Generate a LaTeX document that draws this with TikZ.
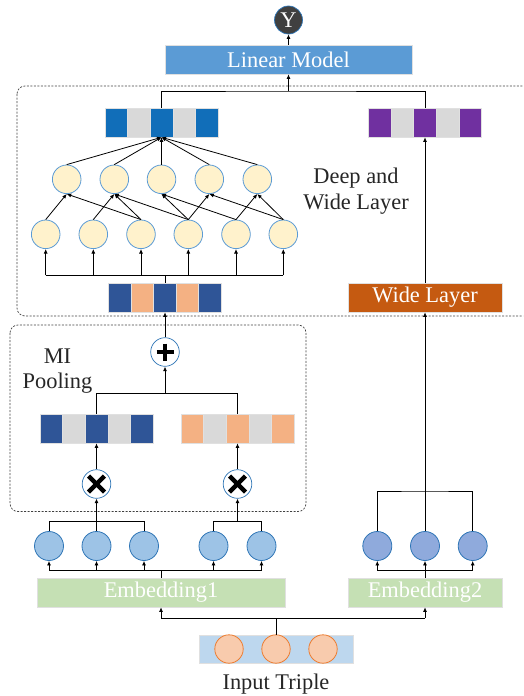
\documentclass[tikz,border=0pt]{standalone}
\usepackage{fontspec}
\setmainfont{Liberation Serif}
\usetikzlibrary{arrows.meta}
\definecolor{vblue}{HTML}{116EB9}
\definecolor{vgray}{HTML}{D9D9D9}
\definecolor{vpurple}{HTML}{7030A0}
\definecolor{vdblue}{HTML}{2F5597}
\definecolor{vorange}{HTML}{F4B183}
\definecolor{wlayer}{HTML}{C55A11}
\definecolor{lmodel}{HTML}{5B9BD5}
\definecolor{embg}{HTML}{C5E0B4}
\definecolor{inbox}{HTML}{BDD7EE}
\definecolor{incirc}{HTML}{F8CBAD}
\definecolor{incircb}{HTML}{ED7D31}
\definecolor{eonefill}{HTML}{9DC3E6}
\definecolor{etwofill}{HTML}{8FAADC}
\definecolor{cborder}{HTML}{2E75B6}
\definecolor{hidfill}{HTML}{FFF2CC}
\definecolor{hidb}{HTML}{5B9BD5}
\definecolor{ydark}{HTML}{404040}
\definecolor{txt}{HTML}{262626}
\begin{document}
\begin{tikzpicture}[x=1pt,y=-1pt,
  bigfont/.style={font=\fontsize{22.4}{25.5}\selectfont},
  arr/.style={-{Latex[length=4.5pt,width=4pt]}, line width=0.8pt},
  ln/.style={line width=0.8pt},
  cell/.style={draw=black!12, line width=0.6pt, minimum width=22.6pt, minimum height=29pt, inner sep=0pt},
  hid/.style={circle, draw=hidb, line width=0.8pt, fill=hidfill, minimum size=28.6pt, inner sep=0pt},
  eone/.style={circle, draw=cborder, line width=0.8pt, fill=eonefill, minimum size=29pt, inner sep=0pt},
  etwo/.style={circle, draw=cborder, line width=0.8pt, fill=etwofill, minimum size=29pt, inner sep=0pt},
  inc/.style={circle, draw=incircb, line width=0.8pt, fill=incirc, minimum size=28.4pt, inner sep=0pt},
  op/.style={circle, draw=cborder, line width=0.7pt, fill=white, minimum size=28.6pt, inner sep=0pt},
  tbox/.style={bigfont, text=white, draw=black!12, line width=0.6pt, minimum height=29pt, inner sep=0pt},
  dbox/.style={draw=black!75, line width=0.7pt, dash pattern=on 2pt off 1.5pt, rounded corners=8pt},
  lbl/.style={bigfont, text=txt, align=center}
]
\useasboundingbox (0,0) rectangle (523,696);
\begin{scope}
\clip (0,0) rectangle (523,696);
% dashed group boxes
\draw[dbox] (17,86) rectangle (560,316);
\draw[dbox] (10,325) rectangle (306,511.5);

% output and linear model
\node[circle, fill=ydark, draw=cborder, line width=0.7pt, minimum size=28pt, inner sep=0pt, text=white, bigfont] (Y) at (288.5,20) {Y};
\node[tbox, fill=lmodel, minimum width=247pt] (LM) at (288.5,59.5) {Linear Model};

% top vectors
\foreach \i/\c in {1/vblue,2/vgray,3/vblue,4/vgray,5/vblue}
  \node[cell, fill=\c] (tv\i) at ({105+11.3+(\i-1)*22.6},122.5) {};
\foreach \i/\c in {1/vpurple,2/vgray,3/vpurple,4/vgray,5/vpurple}
  \node[cell, fill=\c] (pv\i) at ({379.8+(\i-1)*22.6},122.5) {};

% hidden layers
\foreach \i/\x in {1/66.7,2/114.3,3/161.5,4/209.3,5/257.3}
  \node[hid] (h\i) at (\x,179.3) {};
\foreach \i/\x in {1/45.7,2/93.3,3/141,4/188.3,5/236,6/283.3}
  \node[hid] (g\i) at (\x,234.3) {};

% concatenated vector
\foreach \i/\c in {1/vdblue,2/vorange,3/vdblue,4/vorange,5/vdblue}
  \node[cell, fill=\c, minimum width=22.5pt] (bv\i) at ({120+(\i-1)*22.5},297.5) {};

\node[tbox, fill=wlayer, minimum width=154pt] (WL) at (425,297.5) {Wide Layer};

\node[lbl] (dw) at (356,191) {Deep and\\Wide Layer};

% MI pooling
\node[op] (P) at (165,352) {};
\draw[line width=4.5pt] (P.center) ++(-8.5,0) -- ++(17,0);
\draw[line width=4.5pt] (P.center) ++(0,-8.5) -- ++(0,17);
\node[lbl] (mi) at (57.5,371) {MI\\Pooling};

\foreach \i/\c in {1/vdblue,2/vgray,3/vdblue,4/vgray,5/vdblue}
  \node[cell, fill=\c] (lv\i) at ({51.3+(\i-1)*22.6},428.5) {};
\foreach \i/\c in {1/vorange,2/vgray,3/vorange,4/vgray,5/vorange}
  \node[cell, fill=\c] (rv\i) at ({192.3+(\i-1)*22.6},428.5) {};

\node[op] (T1) at (96.5,484) {};
\node[op] (T2) at (237.5,484) {};
\foreach \t in {T1,T2}{
  \draw[line width=4.5pt] (\t.center) ++(-8,-8) -- ++(16,16);
  \draw[line width=4.5pt] (\t.center) ++(-8,8) -- ++(16,-16);
}

% embedding circles
\foreach \i/\x in {1/49,2/96.5,3/144,4/213.5,5/261.5}
  \node[eone] (e\i) at (\x,546) {};
\foreach \i/\x in {1/377.3,2/425,3/472.7}
  \node[etwo] (f\i) at (\x,546) {};

\node[tbox, fill=embg, minimum width=248pt] (E1) at (161,592.5) {Embedding1};
\node[tbox, fill=embg, minimum width=154pt] (E2) at (425,592.5) {Embedding2};

% input
\node[draw=black!12, line width=0.6pt, fill=inbox, minimum width=154pt, minimum height=28.4pt, inner sep=0pt] (IB) at (276,649) {};
\foreach \i/\x in {1/229,2/276,3/323}
  \node[inc] (i\i) at (\x,649) {};
\node[lbl] (it) at (276,684) {Input Triple};

% ---- connectors ----
\draw[arr] (LM.north) -- (Y.south);
\coordinate (j1) at (288.5,91);
\draw[ln] (tv3.north) |- (j1) -| (pv3.north);
\draw[arr] (j1) -- (LM.south);

\foreach \i in {1,...,5}
  \draw[arr] (h\i.north) -- (tv3.south);
\foreach \a/\b in {1/1,2/2,3/1,3/2,4/2,4/3,4/4,5/3,5/5,6/4,6/5}
  \draw[arr] (g\a.north) -- (h\b.south);

\coordinate (b1) at (165,275.3);
\draw[ln] (bv3.north) -- (b1);
\draw[ln] (g1.south |- b1) -- (g6.south |- b1);
\foreach \i in {1,...,6}
  \draw[arr] (g\i.south |- b1) -- (g\i.south);

\draw[arr] (WL.north) -- (pv3.south);

\draw[arr] (P.north) -- (bv3.south);
\coordinate (b2) at (165,393.7);
\draw[ln] (lv3.north) |- (b2) -| (rv3.north);
\draw[arr] (b2) -- (P.south);

\draw[arr] (T1.north) -- (lv3.south);
\draw[arr] (T2.north) -- (rv3.south);

\coordinate (c1) at (96.5,521.7);
\coordinate (c2) at (237.5,521.7);
\coordinate (c3) at (425,491);
\draw[ln] (e1.north) |- (c1) -| (e3.north);
\draw[arr] (e2.north) -- (T1.south);
\draw[ln] (e4.north) |- (c2) -| (e5.north);
\draw[arr] (c2) -- (T2.south);
\draw[ln] (f1.north) |- (c3) -| (f3.north);
\draw[arr] (f2.north) -- (WL.south);

\coordinate (d1) at (161,570);
\coordinate (d2) at (425,570);
\draw[ln] (E1.north) -- (d1);
\draw[ln] (e1.south |- d1) -- (e5.south |- d1);
\foreach \i in {1,...,5}
  \draw[arr] (e\i.south |- d1) -- (e\i.south);
\draw[ln] (E2.north) -- (d2);
\draw[ln] (f1.south |- d2) -- (f3.south |- d2);
\foreach \i in {1,...,3}
  \draw[arr] (f\i.south |- d2) -- (f\i.south);

\coordinate (d3) at (276,618);
\draw[ln] (IB.north) -- (d3);
\draw[ln] (E1.south |- d3) -- (E2.south |- d3);
\draw[arr] (E1.south |- d3) -- (E1.south);
\draw[arr] (E2.south |- d3) -- (E2.south);
\end{scope}
\end{tikzpicture}
\end{document}
